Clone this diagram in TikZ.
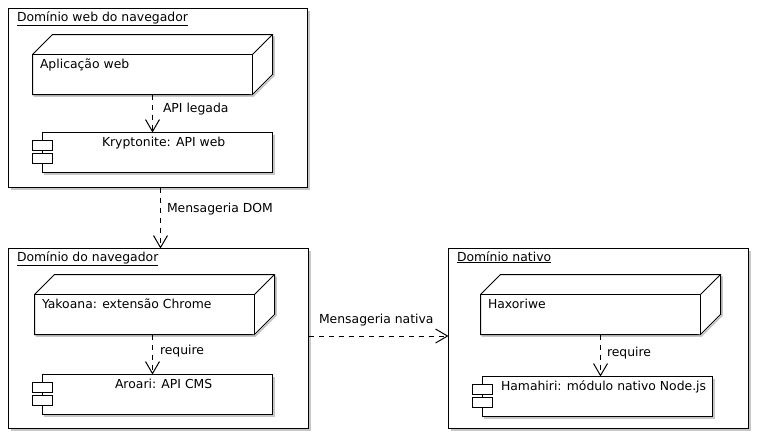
\documentclass[tikz,border=0pt]{standalone}
\usepackage{fontspec}
\setmainfont{DejaVu Sans}
\usetikzlibrary{arrows.meta}
\tikzset{
  x=1pt,y=-1pt,
  shp/.style={draw=black,line width=1pt,fill=white,line join=miter},
  shadowline/.style={draw=black!22,line width=1.6pt},
  lbl/.style={inner sep=0pt,outer sep=0pt,anchor=base west,font=\fontsize{12.4}{14}\selectfont},
  dep/.style={draw=black,line width=1pt,dash pattern=on 5pt off 5pt,-{Straight Barb[length=12pt,width=14pt,line width=1pt]}}
}
% frame: name, x0, y0, x1, y1
\newcommand{\frm}[5]{%
  \draw[shadowline] (#2+2,#5+1.5) -- (#4+1.5,#5+1.5) -- (#4+1.5,#3+2);
  \node[shp,inner sep=0pt,outer sep=0pt,minimum width=#4pt-#2pt,minimum height=#5pt-#3pt] (#1) at ({(#2+#4)/2},{(#3+#5)/2}) {};}
% cube: name, x0, ytop, x1(right incl depth), y1(bottom)
\newcommand{\cube}[5]{%
  \node[inner sep=0pt,outer sep=0pt,minimum width=#4pt-#2pt,minimum height=#5pt-#3pt] (#1) at ({(#2+#4)/2},{(#3+#5)/2}) {};
  \draw[shadowline] (#2+1,#5+1.5) -- (#4-19,#5+1.5) -- (#4+1.5,#5-19) -- (#4+1.5,#3+2);
  \draw[shp] (#1.north west)++(0,20) -- ++(20,-20) -- (#1.north east) -- ++(0,40) -- ++(-20,20) -- (#1.south west) -- cycle;
  \draw[shp] (#1.north west)++(0,20) -- ++({#4-#2-20},0) -- ++(0,40);
  \draw[shp] (#1.north east) -- ++(-20,20);}
% component: name, x0 (tabs), ytop, x1, ybottom
\newcommand{\comp}[5]{%
  \node[inner sep=0pt,outer sep=0pt,minimum width=#4pt-#2pt,minimum height=#5pt-#3pt] (#1) at ({(#2+#4)/2},{(#3+#5)/2}) {};
  \draw[shadowline] (#2+11,#5+1.5) -- (#4+1.5,#5+1.5) -- (#4+1.5,#3+2);
  \draw[shp] (#2+10,#3) rectangle (#4,#5);
  \draw[shp] (#2,#3+8) rectangle (#2+20,#3+18);
  \draw[shp] (#2,#3+21) rectangle (#2+20,#3+31);}
\begin{document}
\begin{tikzpicture}
\useasboundingbox (0,0) rectangle (760,440);
\fill[white] (0,0) rectangle (760,440);

\frm{web}{8.5}{8.5}{307.5}{187.5}
\frm{nav}{8.5}{248.5}{308.5}{428.5}
\frm{nat}{448.5}{248.5}{748.5}{428.5}

\cube{app}{32.5}{34.5}{272.5}{94.5}
\comp{kry}{32.5}{132.5}{272.5}{172.5}
\cube{yak}{34.5}{274.5}{274.5}{334.5}
\comp{aro}{32.5}{374.5}{272.5}{414.5}
\cube{hax}{480.5}{274.5}{720.5}{334.5}
\comp{ham}{472.5}{376.5}{712.5}{416.5}

\node[lbl] (t1) at (17,21) {\underline{Domínio web do navegador}};
\node[lbl] (t2) at (17,261) {\underline{Domínio do navegador}};
\node[lbl] (t3) at (457,261) {\underline{Domínio nativo}};
\node[lbl] (n1) at (40,68) {Aplicação web};
\node[lbl] (n2) at (102,146) {Kryptonite: API web};
\node[lbl] (n3) at (42,308) {Yakoana: extensão Chrome};
\node[lbl] (n4) at (115,388) {Aroari: API CMS};
\node[lbl] (n5) at (488,308) {Haxoriwe};
\node[lbl] (n6) at (501,390) {Hamahiri: módulo nativo Node.js};

\coordinate (domx) at (160.5,0);
\draw[dep] (app.south) -- (kry.north);
\draw[dep] (yak.south -| aro.north) -- (aro.north);
\draw[dep] (hax.south) -- (hax.south |- ham.north);
\draw[dep] (web.south -| domx) -- (nav.north -| domx);
\draw[dep] (nav.east |- 0,336) -- (nat.west |- 0,336);

\node[lbl] (e1) at (163,112) {API legada};
\node[lbl] (e2) at (167,212) {Mensageria DOM};
\node[lbl] (e3) at (160,354) {require};
\node[lbl] (e4) at (319,323) {Mensageria nativa};
\node[lbl] (e5) at (607,356) {require};
\end{tikzpicture}
\end{document}
